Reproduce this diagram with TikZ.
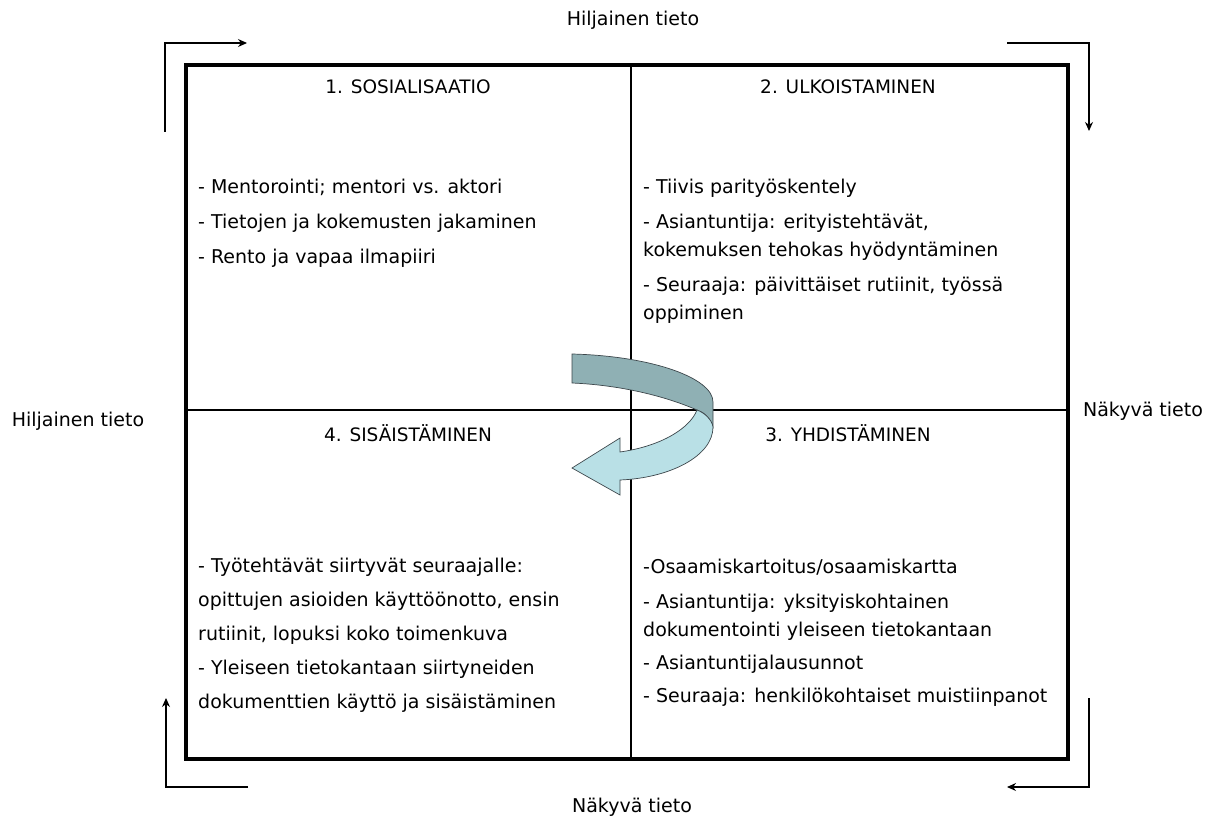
\documentclass[tikz,border=0pt]{standalone}
\usepackage{fontspec}
\setmainfont{DejaVu Sans}
\usetikzlibrary{arrows.meta,positioning}
\definecolor{ribbondark}{RGB}{143,176,180}
\definecolor{ribbonlight}{RGB}{185,224,230}
\definecolor{ribbonline}{RGB}{60,70,75}

\tikzset{
  quadtitle/.style={font=\fontsize{18.5}{22}\selectfont,inner sep=0pt},
  quadtext/.style={font=\fontsize{19}{28}\selectfont,align=left,anchor=north west,inner sep=0pt},
  sidelabel/.style={font=\fontsize{19}{22}\selectfont,inner sep=0pt},
  turnarrow/.style={line width=1.2pt,-{Stealth[length=9pt,width=8pt]}},
}

\begin{document}
\begin{tikzpicture}[x=1pt,y=-1pt]
  \useasboundingbox (0,0) rectangle (1220,821);

  % frame and axes
  \draw[line width=4pt] (186,65) rectangle (1068,759);
  \draw[line width=1.2pt] (631,65) -- (631,759);
  \draw[line width=1.2pt] (186,410) -- (1068,410);

  % side labels
  \node[sidelabel] (tacittop) at (633,20) {Hiljainen tieto};
  \node[sidelabel] (tacitleft) at (78,421) {Hiljainen tieto};
  \node[sidelabel] (explright) at (1143,411) {Näkyvä tieto};
  \node[sidelabel] (explbottom) at (632,807) {Näkyvä tieto};

  % corner arrows
  \coordinate (tlstart) at (165,132);
  \coordinate (tlend) at (247,43);
  \coordinate (trstart) at (1007,43);
  \coordinate (trend) at (1089,131);
  \coordinate (brstart) at (1089,698);
  \coordinate (brend) at (1007,787);
  \coordinate (blstart) at (248,787);
  \coordinate (blend) at (166,698);
  \draw[turnarrow] (tlstart) |- (tlend);
  \draw[turnarrow] (trstart) -| (trend);
  \draw[turnarrow] (brstart) |- (brend);
  \draw[turnarrow] (blstart) -| (blend);

  % quadrant titles
  \node[quadtitle] (sos) at (408,87) {1. SOSIALISAATIO};
  \node[quadtitle] (ulk) at (848,87) {2. ULKOISTAMINEN};
  \node[quadtitle] (sis) at (408,433) {4. SISÄISTÄMINEN};
  \node[quadtitle] (yhd) at (848,433) {3. YHDISTÄMINEN};

  % quadrant texts
  \node[quadtext] (sostext) at (198,179) {- Mentorointi; mentori vs. aktori\\[7pt]
    - Tietojen ja kokemusten jakaminen\\[7pt]
    - Rento ja vapaa ilmapiiri};
  \node[quadtext] (ulktext) at (643,179) {- Tiivis parityöskentely\\[7pt]
    - Asiantuntija: erityistehtävät,\\
    kokemuksen tehokas hyödyntäminen\\[7pt]
    - Seuraaja: päivittäiset rutiinit, työssä\\
    oppiminen};
  \node[quadtext] (sistext) at (198,558) {- Työtehtävät siirtyvät seuraajalle:\\[6pt]
    opittujen asioiden käyttöönotto, ensin\\[6pt]
    rutiinit, lopuksi koko toimenkuva\\[6pt]
    - Yleiseen tietokantaan siirtyneiden\\[6pt]
    dokumenttien käyttö ja sisäistäminen};
  \node[quadtext] (yhdtext) at (643,559) {-Osaamiskartoitus/osaamiskartta\\[7pt]
    - Asiantuntija: yksityiskohtainen\\
    dokumentointi yleiseen tietokantaan\\[5pt]
    - Asiantuntijalausunnot\\[5pt]
    - Seuraaja: henkilökohtaiset muistiinpanot};

  % curved ribbon arrow
  \draw[fill=ribbondark,draw=ribbonline,line width=0.7pt]
    (572,354) .. controls (652,356) and (713,378) .. (713,402) -- (713,427)
    .. controls (710,418) and (704,412) .. (697,410)
    .. controls (665,396) and (620,385) .. (572,383) -- cycle;
  \draw[fill=ribbonlight,draw=ribbonline,line width=0.7pt]
    (620,452) .. controls (662,446) and (690,428) .. (697,410)
    .. controls (705,413) and (712,420) .. (713,427)
    .. controls (713,456) and (670,478) .. (620,480)
    -- (620,495) -- (572,468) -- (620,438) -- cycle;
\end{tikzpicture}
\end{document}
